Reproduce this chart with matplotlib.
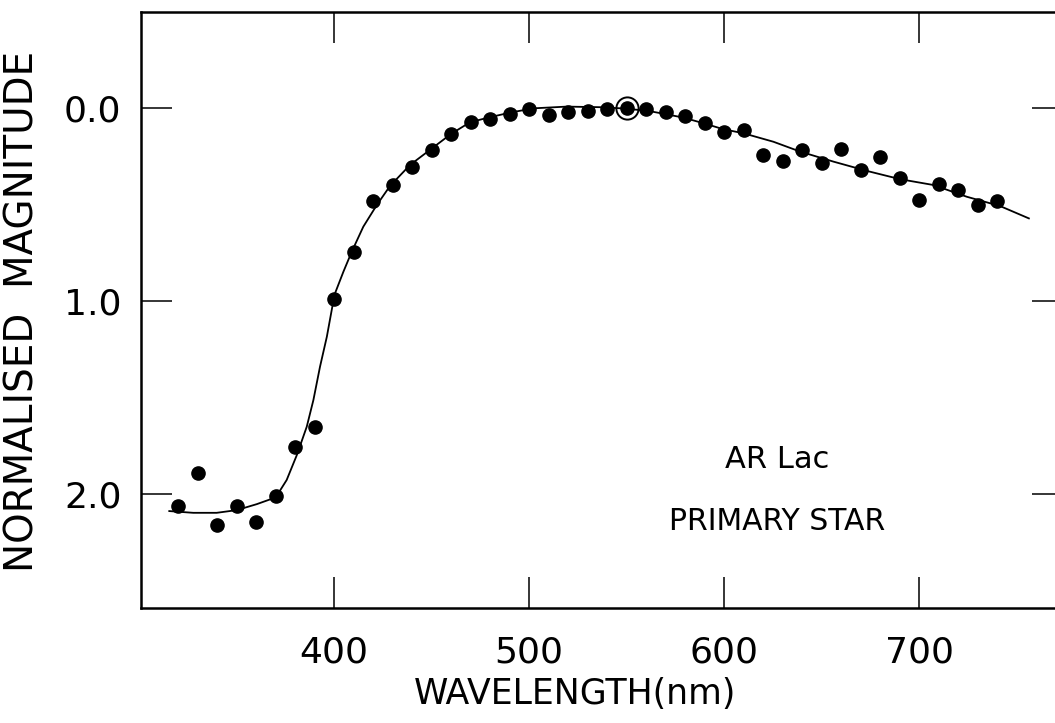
import matplotlib
matplotlib.use("Agg")
import matplotlib.pyplot as plt

# Observed data (wavelength in nm, normalised magnitude)
wavelength = [320, 330, 340, 350, 360, 370, 380, 390, 400, 410, 420, 430, 440,
              450, 460, 470, 480, 490, 500, 510, 520, 530, 540, 550, 560, 570,
              580, 590, 600, 610, 620, 630, 640, 650, 660, 670, 680, 690, 700,
              710, 720, 730, 740]
magnitude = [2.06, 1.89, 2.16, 2.06, 2.145, 2.012, 1.755, 1.651, 0.99, 0.744,
             0.484, 0.399, 0.307, 0.218, 0.136, 0.074, 0.055, 0.031, 0.005,
             0.038, 0.022, 0.016, 0.005, 0.0, 0.005, 0.021, 0.041, 0.079,
             0.123, 0.116, 0.244, 0.276, 0.216, 0.287, 0.212, 0.321, 0.256,
             0.361, 0.475, 0.394, 0.427, 0.504, 0.484]

# Reference (normalisation) point
ref_wavelength = [550]
ref_magnitude = [0.0]

# Fitted curve
curve_wl = [315.5, 327.8, 339.8, 350.1, 360.4, 370.1, 375.7, 380.9, 386.0,
            389.4, 392.8, 396.3, 399.1, 400.5, 404.8, 409.1, 415.0, 421.9,
            428.7, 439.0, 449.6, 459.8, 469.7, 479.9, 490.3, 502.2, 519.3,
            536.4, 547.3, 560.4, 570.6, 579.1, 589.4, 599.6, 609.9, 625.3,
            639.0, 656.1, 673.2, 690.3, 707.3, 724.5, 741.5, 756.3]
curve_mag = [2.088, 2.097, 2.097, 2.083, 2.052, 2.017, 1.927, 1.798, 1.651,
             1.513, 1.340, 1.185, 1.030, 0.960, 0.848, 0.744, 0.615, 0.503,
             0.404, 0.295, 0.214, 0.136, 0.074, 0.048, 0.024, 0.002, -0.007,
             -0.004, 0.002, 0.014, 0.033, 0.050, 0.079, 0.110, 0.131, 0.175,
             0.226, 0.278, 0.326, 0.369, 0.399, 0.460, 0.508, 0.572]

x_ticks = [400, 500, 600, 700]
x_ticklabels = ["400", "500", "600", "700"]
y_ticks = [0.0, 1.0, 2.0]
y_ticklabels = ["0.0", "1.0", "2.0"]

W, H = 1055, 723
fig = plt.figure(figsize=(W / 100, H / 100), dpi=100)
left_px, right_px, top_px, bottom_px = 141, 1063, 12, 608
ax = fig.add_axes([left_px / W, 1 - bottom_px / H,
                   (right_px - left_px) / W, (bottom_px - top_px) / H])

ax.plot(curve_wl, curve_mag, color="black", lw=1.3, zorder=2)
ax.plot(wavelength, magnitude, "o", color="black", ms=9.5, mec="black", zorder=3)
ax.plot(ref_wavelength, ref_magnitude, "o", mfc="none", mec="black", ms=16,
        mew=1.4, zorder=4)

ax.set_xlim(301, 773.8)
ax.set_ylim(2.59, -0.497)

ax.set_xticks(x_ticks)
ax.set_xticklabels(x_ticklabels)
ax.set_yticks(y_ticks)
ax.set_yticklabels(y_ticklabels)

ax.tick_params(axis="both", which="major", direction="in", length=22,
               width=1.1, labelsize=26, top=True, right=True, color="black")
ax.tick_params(axis="x", pad=20)
ax.tick_params(axis="y", pad=14)
for sp in ax.spines.values():
    sp.set_linewidth(1.8)

ax.set_xlabel("WAVELENGTH(nm)", fontsize=25)
ax.xaxis.set_label_coords((575.5 - left_px) / (right_px - left_px),
                          (bottom_px - 677) / (bottom_px - top_px))
ax.set_ylabel("NORMALISED  MAGNITUDE", fontsize=28)
ax.yaxis.set_label_coords((42 - left_px) / (right_px - left_px), 0.497)

ax.text(627, 1.82, "AR Lac", fontsize=22, ha="center", va="center")
ax.text(627, 2.14, "PRIMARY STAR", fontsize=21.5, ha="center", va="center")

fig.savefig("out.png", dpi=100)
